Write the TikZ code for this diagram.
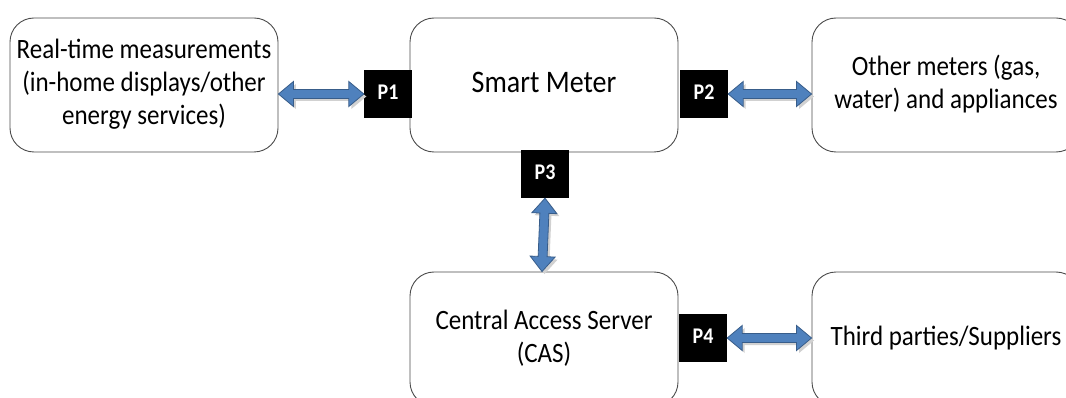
\documentclass[tikz,border=0pt]{standalone}
\usepackage{fontspec}
\setmainfont{Carlito}
\usetikzlibrary{calc}
\definecolor{arrfill}{HTML}{4F81BD}
\definecolor{arrline}{HTML}{385D8A}
\newcommand\tall[1]{\scalebox{1}[1.12]{\begin{tabular}{@{}c@{}}#1\end{tabular}}}
\tikzset{
  box/.style={draw=black!70, line width=0.9pt, rounded corners=24pt, fill=white,
    minimum width=268pt, minimum height=134pt, align=center,
    font=\fontsize{25pt}{29.5pt}\selectfont, inner sep=0pt},
  bigtext/.style={font=\fontsize{28pt}{32pt}\selectfont},
  port/.style={fill=black, minimum width=48pt, minimum height=48pt, inner sep=0pt,
    text=white, font=\fontsize{20pt}{24pt}\selectfont\bfseries},
  arrowbody/.style={fill=arrfill, draw=arrline, line width=0.8pt, line join=miter},
  arrowshadow/.style={fill=black!18, draw=none}
}
\newcommand\blockpath[2]{%
  \coordinate (ba) at (#1); \coordinate (bb) at (#2);
  \coordinate (h1) at ($(ba)!15pt!(bb)$);
  \coordinate (h2) at ($(bb)!15pt!(ba)$);
}
\newcommand\blockshape{(ba) -- ($(h1)!12.5pt!90:(bb)$) -- ($(h1)!4.5pt!90:(bb)$) -- ($(h2)!4.5pt!-90:(ba)$) -- ($(h2)!12.5pt!-90:(ba)$) -- (bb) -- ($(h2)!12.5pt!90:(ba)$) -- ($(h2)!4.5pt!90:(ba)$) -- ($(h1)!4.5pt!-90:(bb)$) -- ($(h1)!12.5pt!-90:(bb)$) -- cycle}
\newcommand\barrow[2]{%
  \blockpath{#1}{#2}%
  \begin{scope}[transform canvas={shift={(2.5pt,-2.5pt)}}]
    \fill[arrowshadow] \blockshape;
  \end{scope}
  \draw[arrowbody] \blockshape;
}
\begin{document}
\begin{tikzpicture}[x=1pt,y=-1pt]
\useasboundingbox (0,0) rectangle (1066,398);
\clip (0,0) rectangle (1066,398);
\node[box] (rt) at (144,85) {\tall{Real-time measurements\\(in-home displays/other\\energy services)}};
\node[box, bigtext] (sm) at (544,85) {\tall{Smart Meter}};
\node[box] (om) at (946,85) {\tall{Other meters (gas,\\water) and appliances}};
\node[box] (cas) at (544,339) {\tall{Central Access Server\\(CAS)}};
\node[box] (tp) at (946,339) {\tall{Third parties/Suppliers}};
\node[port] (p1) at (388,94) {\tall{P1}};
\node[port] (p2) at (704,94) {\tall{P2}};
\node[port] (p3) at (545,174) {\tall{P3}};
\node[port] (p4) at (703,338) {\tall{P4}};
\barrow{rt.east |- p1.west}{p1.west}
\barrow{p2.east}{om.west |- p2.east}
\barrow{p3.south}{$(cas.north)+(-2,0)$}
\barrow{p4.east}{tp.west |- p4.east}
\end{tikzpicture}
\end{document}
